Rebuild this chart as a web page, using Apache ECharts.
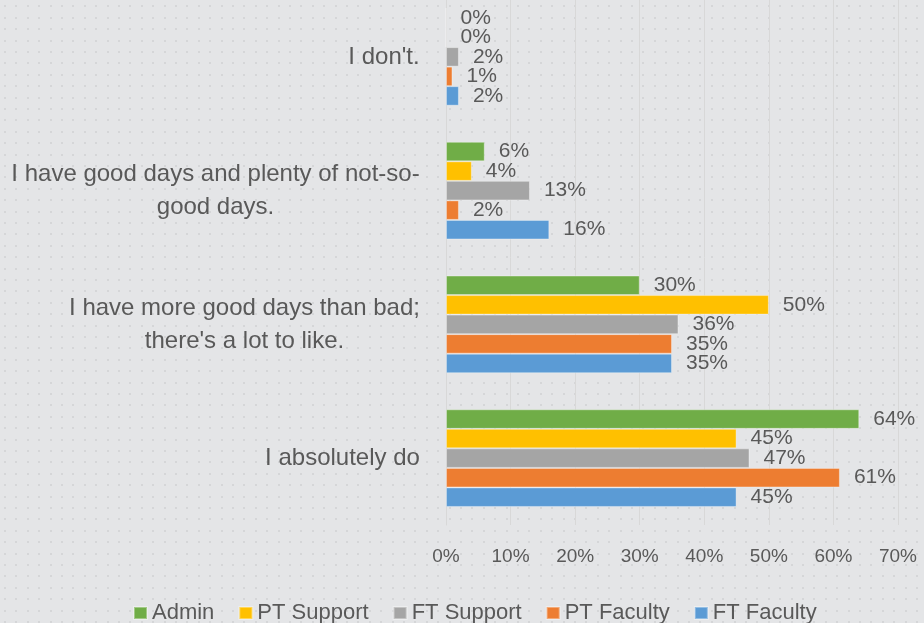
<!DOCTYPE html>
<html>
<head>
<meta charset="utf-8">
<script src="https://cdn.jsdelivr.net/npm/echarts@6/dist/echarts.min.js"></script>
<style>
  html, body { margin: 0; padding: 0; overflow: hidden; background: #e4e5e7; }
  #chart { position: relative; top: -10px; width: 924px; height: 633px; }
</style>
</head>
<body>
<div id="chart"></div>
<script>
// categories, bottom to top
var categories = [
  'I absolutely do',
  "I have more good days than bad;\nthere's a lot to like.",
  'I have good days and plenty of not-so-\ngood days.',
  "I don't."
];
var seriesNames = ['Admin', 'PT Support', 'FT Support', 'PT Faculty', 'FT Faculty'];
var admin     = [64, 30, 6, 0];
var ptSupport = [45, 50, 4, 0];
var ftSupport = [47, 36, 13, 2];
var ptFaculty = [61, 35, 2, 1];
var ftFaculty = [45, 35, 16, 2];
var xTicks = [0, 10, 20, 30, 40, 50, 60, 70];

var colors = {
  'Admin': '#70ad47',
  'PT Support': '#ffc000',
  'FT Support': '#a5a5a5',
  'PT Faculty': '#ed7d31',
  'FT Faculty': '#5b9bd5'
};
var textColor = '#595959';
var fontFamily = '"Liberation Sans", Arial, sans-serif';

// dotted background tile
function makePattern() {
  var c = document.createElement('canvas');
  c.width = 57; c.height = 57;
  var ctx = c.getContext('2d');
  ctx.fillStyle = '#e4e5e7';
  ctx.fillRect(0, 0, 57, 57);
  ctx.fillStyle = '#d5d6d8';
  for (var i = 0; i < 5; i++) {
    for (var j = 0; j < 5; j++) {
      ctx.fillRect(Math.round(i * 11.4 + 4), Math.round(j * 11.4 + 4), 2, 2);
    }
  }
  return c;
}

// rich styles so each line of a category label is centred under the longest one
var catFont = 24;
var measure = document.createElement('canvas').getContext('2d');
measure.font = catFont + 'px ' + fontFamily;
var rich = {};
categories.forEach(function (cat, i) {
  var w = 0;
  cat.split('\n').forEach(function (line) {
    w = Math.max(w, measure.measureText(line).width);
  });
  rich['c' + i] = {
    width: Math.ceil(w), align: 'center', fontSize: catFont,
    lineHeight: 33, color: textColor, fontFamily: fontFamily
  };
});

var data = {
  'Admin': admin,
  'PT Support': ptSupport,
  'FT Support': ftSupport,
  'PT Faculty': ptFaculty,
  'FT Faculty': ftFaculty
};

var chart = echarts.init(document.getElementById('chart'));
chart.setOption({
  backgroundColor: { image: makePattern(), repeat: 'repeat' },
  animation: false,
  textStyle: { fontFamily: fontFamily },
  // the chart box starts 10px above the page, so the top band is partly cut off
  grid: { left: 446, right: 26, top: 0, bottom: 98, containLabel: false },
  legend: {
    data: seriesNames,
    top: 607,
    left: 128,
    icon: 'rect',
    itemWidth: 13,
    itemHeight: 12,
    itemGap: 24,
    textStyle: { fontSize: 22, color: textColor, fontFamily: fontFamily }
  },
  xAxis: {
    type: 'value',
    min: xTicks[0],
    max: xTicks[xTicks.length - 1],
    interval: 10,
    axisLine: { show: false },
    axisTick: { show: false },
    splitLine: { lineStyle: { color: '#d8d8d8', width: 1 } },
    axisLabel: {
      formatter: '{value}%',
      fontSize: 19,
      color: textColor,
      margin: 22
    }
  },
  yAxis: {
    type: 'category',
    data: categories,
    axisLine: { show: true, lineStyle: { color: '#d8d8d8' } },
    axisTick: { show: false },
    axisLabel: {
      margin: 26,
      formatter: function (value, idx) {
        return value.split('\n').map(function (l) {
          return '{c' + idx + '|' + l + '}';
        }).join('\n');
      },
      rich: rich
    }
  },
  series: seriesNames.map(function (name) {
    return {
      name: name,
      type: 'bar',
      data: data[name],
      barGap: '0%',
      barCategoryGap: '27%',
      itemStyle: { color: colors[name], borderColor: 'rgba(255,255,255,0.35)', borderWidth: 1 },
      label: {
        show: true,
        position: 'right',
        distance: 14,
        formatter: '{c}%',
        fontSize: 21,
        color: textColor,
        fontFamily: fontFamily
      }
    };
  })
});
</script>
</body>
</html>
